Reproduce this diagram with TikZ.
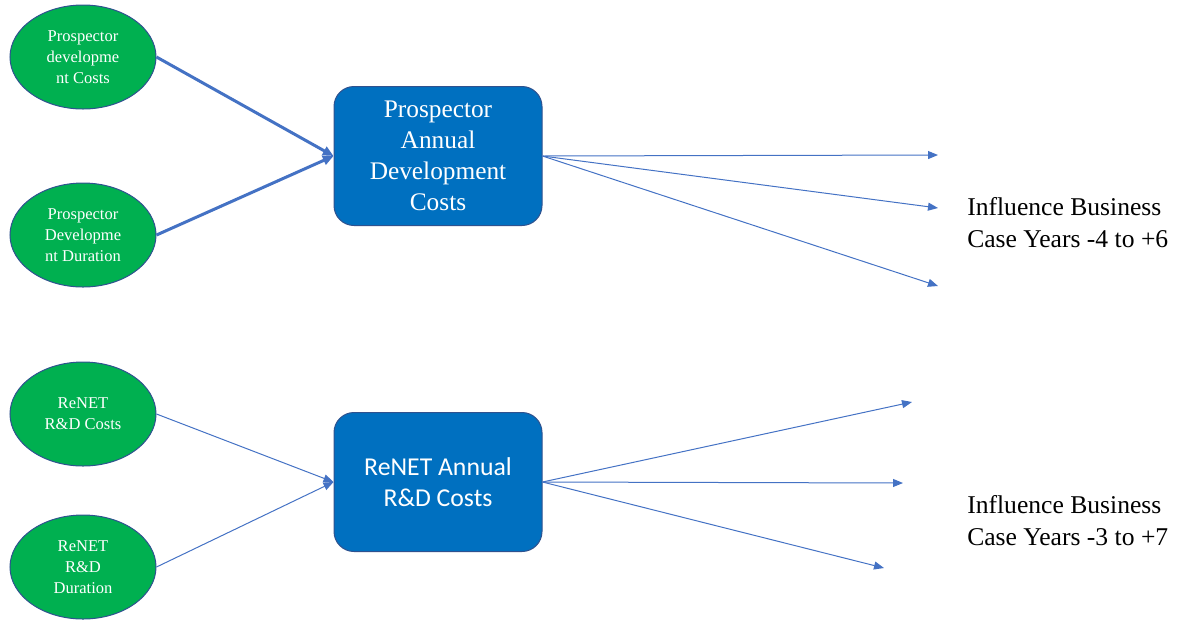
\documentclass[tikz,border=0pt]{standalone}
\usepackage{fontspec}
\setmainfont{Liberation Serif}
\newfontfamily\timesfont{Liberation Serif}
\newfontfamily\calibri{Carlito}
\usetikzlibrary{shapes.geometric,arrows.meta}
\definecolor{leafgreen}{HTML}{00B050}
\definecolor{boxblue}{HTML}{0070C0}
\definecolor{rimblue}{HTML}{2F528F}
\definecolor{linkblue}{HTML}{4472C4}
\tikzset{
  factor/.style={ellipse, draw=rimblue, line width=0.75pt, fill=leafgreen,
    minimum width=109.5pt, minimum height=78pt, inner sep=0pt,
    text=white, align=center,
    font=\timesfont\fontsize{12.4pt}{15.75pt}\selectfont},
  costbox/.style={rectangle, rounded corners=15pt, draw=rimblue, line width=0.75pt,
    fill=boxblue, minimum width=156pt, minimum height=104.25pt, inner sep=0pt,
    text=white, align=center},
  outcome/.style={anchor=west, align=left, inner sep=0pt,
    font=\timesfont\fontsize{19.2pt}{24pt}\selectfont},
  link/.style={draw=linkblue, line width=0.75pt,
    -{Triangle[length=7.5pt,width=6pt]}},
  heavylink/.style={draw=linkblue, line width=2.25pt,
    -{Triangle[length=8pt,width=7pt]}}
}
\begin{document}
\begin{tikzpicture}[x=0.75pt, y=-0.75pt]
\useasboundingbox (0,0) rectangle (1181,619);

% input factors
\node[factor] (pdc) at (83,57) {Prospector\\developme\\nt Costs};
\node[factor] (pdd) at (83,235) {Prospector\\Developme\\nt Duration};
\node[factor] (rdc) at (83,414) {ReNET\\R\&D Costs};
\node[factor] (rdd) at (83,567) {ReNET\\R\&D\\Duration};

% annual cost blocks
\node[costbox, font=\timesfont\fontsize{19pt}{23.25pt}\selectfont] (pac) at (438,156)
  {Prospector\\Annual\\Development\\Costs};
\node[costbox, font=\calibri\fontsize{19.3pt}{23.25pt}\selectfont] (rac) at (438,482)
  {\raisebox{0pt}[\height][\depth]{ReNET Annual}\\R\&D Costs};

% arrow end points toward the business case years
\coordinate (pa1) at (938,155);
\coordinate (pa2) at (938,208);
\coordinate (pa3) at (938,286);
\coordinate (ra1) at (912,402);
\coordinate (ra2) at (903,483);
\coordinate (ra3) at (884,568);

% outcome labels
\node[outcome] (pout) at (967,223) {Influence Business\\Case Years -4 to +6};
\node[outcome] (rout) at (967,521) {Influence Business\\Case Years -3 to +7};

% connectors
\draw[heavylink] (pdc.east) -- (pac.west);
\draw[heavylink] (pdd.east) -- (pac.west);
\draw[link] (rdc.east) -- (rac.west);
\draw[link] (rdd.east) -- (rac.west);

\draw[link] (pac.east) -- (pa1);
\draw[link] (pac.east) -- (pa2);
\draw[link] (pac.east) -- (pa3);
\draw[link] (rac.east) -- (ra1);
\draw[link] (rac.east) -- (ra2);
\draw[link] (rac.east) -- (ra3);
\end{tikzpicture}
\end{document}
